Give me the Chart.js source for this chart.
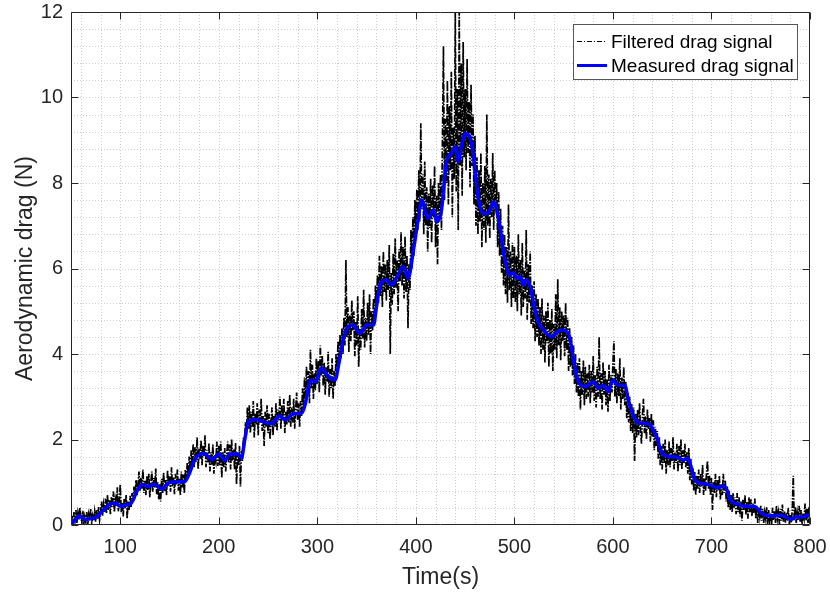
<!DOCTYPE html>
<html>
<head>
<meta charset="utf-8">
<script src="https://cdn.jsdelivr.net/npm/chart.js@4.4.1/dist/chart.umd.min.js"></script>
<style>
html,body{margin:0;padding:0;background:#fff;}
canvas{display:block;}
</style>
</head>
<body>
<canvas id="c" width="830" height="592"></canvas>
<script>
// ---- data ----
const xTickValues = [100, 200, 300, 400, 500, 600, 700, 800];
const yTickValues = [0, 2, 4, 6, 8, 10, 12];
const seriesNames = ['Filtered drag signal', 'Measured drag signal'];
const xTitle = 'Time(s)';
const yTitle = 'Aerodynamic drag (N)';

// noisy signal, one sample per second starting at t = 50 s
const filteredStart = 50;
const filteredDrag = [
0.05,0.22,0.02,0.30,0.10,0.35,0.05,0.28,0.12,0.40,0.18,0.06,0.33,0.02,0.20,0.08,0.30,0.00,0.25,0.12,0.38,0.05,0.22,0.10,0.31,
0.08,0.35,0.15,0.42,0.12,0.30,0.55,0.22,0.48,0.30,0.62,0.28,0.70,0.35,0.58,0.25,0.66,0.42,0.78,0.30,0.60,0.45,0.88,0.32,0.55,
0.95,0.30,0.52,0.20,0.62,0.40,0.70,0.15,0.55,0.35,0.68,0.42,0.75,0.55,0.90,0.62,1.05,0.70,0.95,1.25,0.80,1.10,0.85,1.30,0.75,
1.05,0.70,1.15,0.82,1.20,0.65,0.98,1.25,0.78,1.10,0.88,1.32,0.72,1.00,0.60,0.95,0.55,1.08,0.75,1.22,0.80,1.05,0.70,1.28,0.92,
1.15,0.78,1.35,0.90,1.12,0.72,1.20,0.95,1.30,0.80,1.08,0.70,1.25,0.88,1.18,0.75,1.30,1.02,1.45,1.15,1.60,1.25,1.75,1.40,1.90,
1.35,1.82,1.48,2.05,1.30,1.78,1.55,1.98,1.40,1.85,1.60,2.10,1.35,1.75,1.45,1.92,1.25,1.70,1.40,1.88,1.20,1.65,1.50,1.95,1.38,
1.85,1.40,1.95,1.10,1.70,1.35,1.80,1.25,1.62,1.95,1.45,1.88,1.30,2.00,1.50,1.78,1.30,1.92,0.95,1.70,1.40,1.85,0.90,1.75,1.50,
2.05,1.80,2.40,2.10,2.75,2.25,2.80,2.15,2.65,2.30,2.90,2.05,2.60,2.35,2.85,2.10,2.70,2.40,2.95,2.20,2.55,1.85,2.65,2.30,2.80,
2.15,2.60,2.00,2.45,2.75,2.10,2.55,2.30,2.85,2.20,2.70,2.45,3.00,2.25,2.80,2.50,2.95,2.15,2.65,2.35,2.90,2.40,3.05,2.30,2.75,
2.40,2.95,2.25,2.70,3.10,2.45,2.85,2.30,2.90,2.55,3.20,2.70,3.45,2.90,3.70,3.05,3.60,2.85,4.10,3.20,3.75,2.95,3.55,3.15,3.90,
3.30,3.85,3.10,4.20,3.50,3.95,3.25,3.80,3.05,3.70,3.35,4.05,3.00,3.65,3.20,3.90,2.95,3.60,3.25,4.00,3.55,4.30,3.70,4.45,3.90,
4.60,4.00,4.85,4.20,6.20,4.40,5.10,4.05,4.90,4.30,5.25,4.55,5.00,3.95,4.75,4.20,5.35,3.70,4.60,4.10,5.05,4.35,5.50,4.15,4.85,
4.30,5.20,4.45,5.40,4.00,5.00,4.55,5.30,4.70,5.60,5.00,5.85,5.20,6.30,5.35,6.05,5.10,6.40,5.45,6.10,5.25,6.20,5.50,6.55,4.00,
5.90,5.15,6.35,5.40,6.70,5.55,6.20,5.00,6.45,5.70,6.85,5.60,6.50,5.30,6.75,5.45,6.30,4.60,6.10,5.50,6.90,6.00,7.20,6.30,7.60,
6.70,7.85,6.90,8.30,7.10,9.40,7.40,8.20,6.80,8.50,7.00,7.90,6.40,7.75,6.95,8.10,6.60,7.95,7.20,8.40,6.50,7.70,6.10,8.00,7.10,
8.20,6.90,9.10,11.20,7.60,9.50,8.00,10.40,7.50,9.80,8.30,10.60,7.20,9.30,8.10,12.00,7.80,10.20,6.90,12.00,8.40,10.80,7.70,11.30,8.60,
10.20,8.30,10.90,8.70,9.90,7.90,10.30,8.40,9.60,7.50,9.10,7.00,8.60,6.80,8.30,7.10,8.70,6.50,8.00,6.90,8.40,6.60,9.60,7.00,8.20,
6.70,8.10,7.20,8.70,6.90,8.30,7.40,8.00,6.50,7.80,6.30,7.40,5.90,7.00,5.60,6.80,5.40,6.50,5.20,7.50,5.50,6.40,5.10,6.60,5.30,
6.50,5.20,6.30,5.00,6.80,5.40,6.20,4.90,6.60,5.10,6.00,5.30,6.90,4.80,6.10,5.20,6.40,4.70,5.60,4.60,5.70,4.30,5.40,4.40,5.30,
4.20,5.10,4.00,5.30,4.10,4.90,3.80,5.00,4.25,5.20,3.70,4.80,4.00,5.05,3.60,4.70,4.10,5.40,3.90,5.75,4.20,5.10,3.85,5.00,4.30,
4.90,3.95,5.20,4.10,4.85,3.60,4.60,3.70,4.40,3.50,4.20,3.30,4.00,3.10,3.80,3.00,3.90,2.70,3.60,3.05,3.85,2.80,3.70,2.95,3.55,
3.00,3.75,2.85,3.60,3.10,3.95,2.90,3.50,2.75,3.70,3.00,4.40,2.95,3.55,2.70,3.80,3.05,3.60,2.80,3.40,2.65,3.75,2.90,3.50,3.10,
3.80,4.30,3.00,3.65,2.85,3.55,3.00,3.90,2.70,3.45,2.95,3.70,2.80,3.35,2.50,3.10,2.40,3.00,2.20,2.85,2.15,2.75,1.50,2.60,2.05,
2.70,2.10,2.85,2.20,1.90,2.60,2.95,2.15,2.55,2.00,2.70,2.25,2.50,1.95,2.60,2.05,2.45,1.75,2.30,1.85,2.20,1.55,2.05,1.40,1.85,
1.30,1.90,1.45,2.00,1.20,1.75,1.40,1.95,1.35,1.80,1.50,2.05,1.30,1.70,1.45,1.90,1.25,1.85,1.40,2.00,1.30,1.75,1.45,1.90,1.35,
1.70,1.20,1.80,1.05,1.55,0.95,1.35,0.80,1.25,0.70,1.15,0.85,1.30,0.75,1.20,0.90,1.40,0.70,1.10,0.80,1.25,1.50,0.85,1.15,0.70,
1.10,0.35,1.00,0.75,1.20,0.65,1.05,0.80,1.15,0.60,0.95,0.70,1.20,0.75,1.05,0.55,0.90,0.40,0.80,0.35,0.70,0.30,0.75,0.40,0.65,
0.25,0.75,0.30,0.65,0.20,0.55,0.10,0.60,0.35,0.70,0.25,0.55,0.15,0.65,0.30,0.60,0.20,0.50,0.28,0.62,0.15,0.45,0.05,0.40,0.20,
0.45,0.10,0.38,0.05,0.30,0.15,0.42,0.02,0.35,0.10,0.28,0.00,0.40,0.12,0.32,0.05,0.45,0.15,0.30,0.02,0.38,0.10,0.48,0.08,0.33,
0.05,0.30,0.10,0.40,0.00,0.25,0.05,0.35,1.15,0.10,0.42,0.05,0.30,0.12,0.45,0.08,0.35,0.02,0.28,0.15,0.50,0.10,0.38,0.05,0.42,0.20
];

// smooth measured signal, read at irregular times
const measuredTime = [50,54,58,64,70,75,80,84,88,95,100,106,110,113,116,122,128,134,142,150,158,165,170,176,185,193,200,206,211,219,223,226,230,237,247,253,262,267,276,284,288,291,293,298,304,311,318,322,326,330,336,343,350,357,360,364,370,375,380,387,392,398,402,406,412,418,421,426,431,436,440,443,446,450,455,458,463,468,473,479,484,490,495,499,502,506,509,512,516,520,524,531,538,543,548,555,559,563,572,580,585,590,595,600,605,612,616,621,627,634,639,644,651,658,666,671,676,680,683,690,698,705,712,716,719,727,732,739,744,748,751,759,770,775,781,785,792,798,800];
const measuredDrag = [0.02,0.12,0.21,0.13,0.15,0.18,0.28,0.38,0.47,0.51,0.44,0.47,0.49,0.58,0.75,0.95,0.90,0.96,0.84,1.00,1.01,1.01,1.20,1.55,1.67,1.53,1.66,1.51,1.66,1.66,1.56,1.95,2.42,2.47,2.40,2.37,2.55,2.46,2.61,2.61,2.85,3.24,3.39,3.35,3.67,3.47,3.39,3.80,4.30,4.60,4.68,4.48,4.68,4.68,5.10,5.65,5.73,5.61,5.77,6.04,5.77,6.50,7.10,7.60,7.17,7.37,7.09,7.37,8.50,8.69,8.85,8.50,8.85,9.16,9.05,8.69,7.68,7.29,7.29,7.56,7.13,6.25,5.85,5.90,5.77,5.81,5.61,5.73,5.58,5.10,4.76,4.52,4.40,4.52,4.56,4.47,4.00,3.47,3.24,3.35,3.20,3.27,3.12,3.39,3.27,3.27,2.88,2.53,2.38,2.38,2.30,2.07,1.64,1.60,1.58,1.52,1.56,1.30,1.05,0.97,0.94,0.88,0.91,0.80,0.58,0.49,0.44,0.44,0.43,0.35,0.27,0.21,0.23,0.19,0.13,0.19,0.19,0.23,0.23];

const xMinorStep = 20;
const yMinorStep = 0.4;

// ---- chart ----
const FONT = "'Liberation Sans', Arial, Helvetica, sans-serif";
const AXIS_COLOR = '#262626';
const TARGET = {left: 71, top: 12, right: 810, bottom: 525};

const filteredPoints = filteredDrag.map((v, i) => ({x: filteredStart + i, y: v}));
const measuredPoints = measuredTime.map((t, i) => ({x: t, y: measuredDrag[i]}));

const framePlugin = {
  id: 'matlabFrame',
  beforeDatasetsDraw(chart) {
    const {ctx, chartArea: a, scales: {x, y}} = chart;
    ctx.save();
    ctx.strokeStyle = '#cfcfcf';
    ctx.lineWidth = 1;
    ctx.setLineDash([1, 2]);
    ctx.beginPath();
    for (let v = x.min + 10; v < x.max; v += xMinorStep) {
      const px = Math.round(x.getPixelForValue(v)) + 0.5;
      ctx.moveTo(px, a.top); ctx.lineTo(px, a.bottom);
    }
    for (let k = 1; k * yMinorStep < y.max - 1e-9; k++) {
      const py = Math.round(y.getPixelForValue(k * yMinorStep)) + 0.5;
      ctx.moveTo(a.left, py); ctx.lineTo(a.right, py);
    }
    ctx.stroke();
    ctx.restore();
  },
  afterDatasetsDraw(chart) {
    const {ctx, chartArea: a, scales: {x, y}} = chart;
    const L = Math.round(a.left) + 0.5, R = Math.round(a.right) - 0.5;
    const T = Math.round(a.top) + 0.5, B = Math.round(a.bottom) - 0.5;
    ctx.save();
    ctx.strokeStyle = AXIS_COLOR;
    ctx.lineWidth = 1;
    ctx.setLineDash([]);
    ctx.beginPath();
    ctx.rect(L, T, R - L, B - T);
    const tl = 7;
    xTickValues.forEach(v => {
      const px = Math.round(x.getPixelForValue(v)) + 0.5;
      ctx.moveTo(px, B); ctx.lineTo(px, B - tl);
      ctx.moveTo(px, T); ctx.lineTo(px, T + tl);
    });
    yTickValues.forEach(v => {
      const py = Math.round(y.getPixelForValue(v)) + 0.5;
      ctx.moveTo(L, py); ctx.lineTo(L + tl, py);
      ctx.moveTo(R, py); ctx.lineTo(R - tl, py);
    });
    ctx.stroke();

    // legend
    const bx = 573.5, by = 24.5, bw = 224, bh = 55;
    ctx.fillStyle = '#ffffff';
    ctx.fillRect(bx, by, bw, bh);
    ctx.strokeStyle = '#555555';
    ctx.strokeRect(bx, by, bw, bh);
    const rows = [41.5, 65.5];
    chart.data.datasets.forEach((ds, i) => {
      const ry = rows[i];
      ctx.beginPath();
      ctx.strokeStyle = ds.borderColor;
      ctx.lineWidth = i === 0 ? 1 : 3;
      ctx.setLineDash(i === 0 ? [5, 2, 1, 2] : []);
      ctx.moveTo(577, ry); ctx.lineTo(607, ry);
      ctx.stroke();
      ctx.setLineDash([]);
      ctx.fillStyle = '#000000';
      ctx.font = '19px ' + FONT;
      ctx.textAlign = 'left';
      ctx.textBaseline = 'middle';
      ctx.fillText(ds.label, 611, ry + 1);
    });
    ctx.restore();
  }
};

const pad = {top: TARGET.top, right: 830 - TARGET.right, left: 0, bottom: 0};
const chart = new Chart(document.getElementById('c'), {
  type: 'line',
  data: {
    datasets: [
      {
        label: seriesNames[0],
        data: filteredPoints,
        borderColor: '#000000',
        borderWidth: 1.7,
        borderDash: [7, 1.5, 1.5, 1.5],
        pointRadius: 0,
        tension: 0,
        order: 2
      },
      {
        label: seriesNames[1],
        data: measuredPoints,
        borderColor: '#0000ff',
        borderWidth: 3.5,
        pointRadius: 0,
        cubicInterpolationMode: 'monotone',
        order: 1
      }
    ]
  },
  options: {
    responsive: false,
    animation: false,
    devicePixelRatio: 1,
    layout: {padding: pad},
    plugins: {legend: {display: false}, tooltip: {enabled: false}},
    scales: {
      x: {
        type: 'linear',
        min: 50, max: 800,
        afterBuildTicks: s => { s.ticks = xTickValues.map(v => ({value: v})); },
        afterFit: s => { s.height = 592 - TARGET.bottom; s.paddingLeft = 0; s.paddingRight = 0; },
        grid: {display: false, drawTicks: false},
        border: {display: false},
        ticks: {padding: 10, color: AXIS_COLOR, font: {size: 20, family: FONT}, maxRotation: 0, autoSkip: false},
        title: {display: true, text: xTitle, color: AXIS_COLOR, font: {size: 23, family: FONT}, padding: {top: 0, bottom: 1}}
      },
      y: {
        type: 'linear',
        min: 0, max: 12,
        afterBuildTicks: s => { s.ticks = yTickValues.map(v => ({value: v})); },
        afterFit: s => { s.width = TARGET.left; s.paddingTop = 0; s.paddingBottom = 0; },
        grid: {display: false, drawTicks: false},
        border: {display: false},
        ticks: {padding: 8, color: AXIS_COLOR, font: {size: 20, family: FONT}},
        title: {display: true, text: yTitle, color: AXIS_COLOR, font: {size: 23, family: FONT}, padding: {top: 12, bottom: 0}}
      }
    }
  },
  plugins: [framePlugin]
});

// nudge layout padding so the plot area lands where the reference has it
for (let k = 0; k < 4; k++) {
  const a = chart.chartArea;
  if (!a) break;
  const dT = TARGET.top - a.top, dL = TARGET.left - a.left;
  const dR = a.right - TARGET.right, dB = a.bottom - TARGET.bottom;
  if (Math.abs(dT) + Math.abs(dL) + Math.abs(dR) + Math.abs(dB) < 0.5) break;
  pad.top = Math.max(0, pad.top + dT); pad.left = Math.max(0, pad.left + dL);
  pad.right = Math.max(0, pad.right + dR); pad.bottom = Math.max(0, pad.bottom + dB);
  chart.options.layout.padding = {...pad};
  chart.update('none');
}
</script>
</body>
</html>
